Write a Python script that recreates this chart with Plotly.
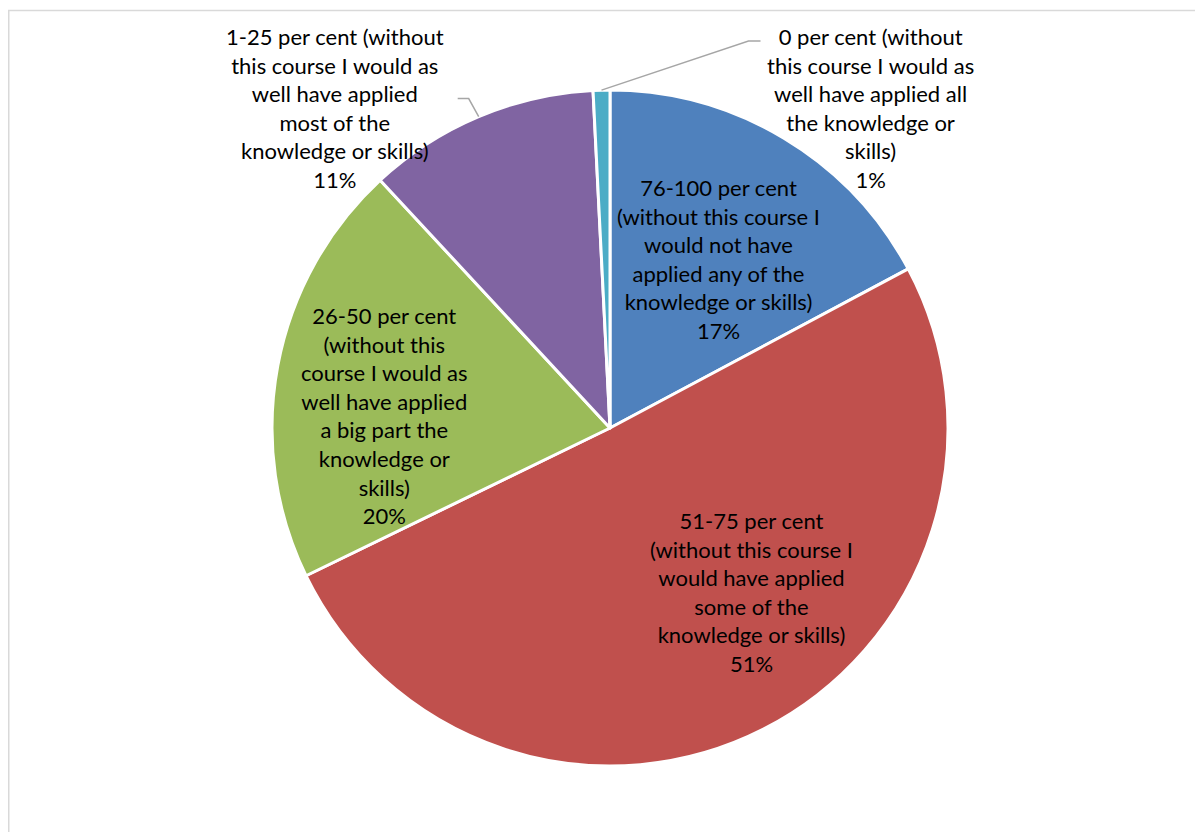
import math
import plotly.graph_objects as go

# page has an 8px body margin, so the figure is drawn 8px in from the window edge
OFF = 8
W, H = 1203 - 2 * OFF, 840 - 2 * OFF
CX, CY, R = 610 - OFF, 428 - OFF, 338  # pie centre / radius in px

categories = [
    "76-100 per cent<br>(without this course I<br>would not have<br>applied any of the<br>knowledge or skills)",
    "51-75 per cent<br>(without this course I<br>would have applied<br>some of the<br>knowledge or skills)",
    "26-50 per cent<br>(without this<br>course I would as<br>well have applied<br>a big part the<br>knowledge or<br>skills)",
    "1-25 per cent (without<br>this course I would as<br>well have applied<br>most of the<br>knowledge or skills)",
    "0 per cent (without<br>this course I would as<br>well have applied all<br>the knowledge or<br>skills)",
]
shares = [17.2, 50.6, 20.3, 11.1, 0.8]
colors = ["#4F81BD", "#C0504D", "#9BBB59", "#8064A2", "#4BACC6"]

FONT = dict(family="Lato, Arial", size=22, color="#000000")

fig = go.Figure(go.Pie(
    labels=categories, values=shares, sort=False, direction="clockwise", rotation=0,
    marker=dict(colors=colors, line=dict(color="white", width=3)),
    textinfo="none",
    domain=dict(x=[(CX - R) / W, (CX + R) / W], y=[1 - (CY + R) / H, 1 - (CY - R) / H]),
    showlegend=False, hoverinfo="label+percent",
))


def px(x, y):
    return x / W, 1 - y / H


def slice_edge(i):
    total = sum(shares)
    start = sum(shares[:i]) / total * 360
    mid = math.radians(start + shares[i] / total * 180)
    return CX + R * math.sin(mid), CY - R * math.cos(mid)


# label centres (page px) and optional leader-line elbows for outside labels
label_layout = [
    (0, (718, 259), None),
    (1, (751, 592), None),
    (2, (384, 415), None),
    (3, (335, 108), [(-10, -18), (-21, -18)]),
    (4, (870, 108), [(147, -49), (159, -49)]),
]
shapes = [dict(type="rect", xref="paper", yref="paper",
               x0=0.75 / W, x1=1.05, y0=-0.05, y1=1 - 2.5 / H,
               line=dict(color="#D9D9D9", width=1.5))]
annotations = []
total = sum(shares)
for i, (lx, ly), elbow in label_layout:
    if elbow:
        ex, ey = slice_edge(i)
        pts = [(ex, ey)] + [(ex + dx, ey + dy) for dx, dy in elbow]
        path = "M " + " L ".join(f"{px(x, y)[0]},{px(x, y)[1]}" for x, y in pts)
        shapes.append(dict(type="path", xref="paper", yref="paper", path=path,
                           line=dict(color="#A6A6A6", width=1.5)))
    ax, ay = px(lx - OFF, ly - OFF)
    annotations.append(dict(
        x=ax, y=ay, xref="paper", yref="paper", showarrow=False,
        text=f"{categories[i]}<br>{round(shares[i] / total * 100)}%",
        font=FONT, align="center", xanchor="center", yanchor="middle",
    ))

fig.update_layout(
    width=W, height=H, margin=dict(l=0, r=0, t=0, b=0),
    paper_bgcolor="white", plot_bgcolor="white",
    shapes=shapes, annotations=annotations,
)
fig.write_html("out.html")
